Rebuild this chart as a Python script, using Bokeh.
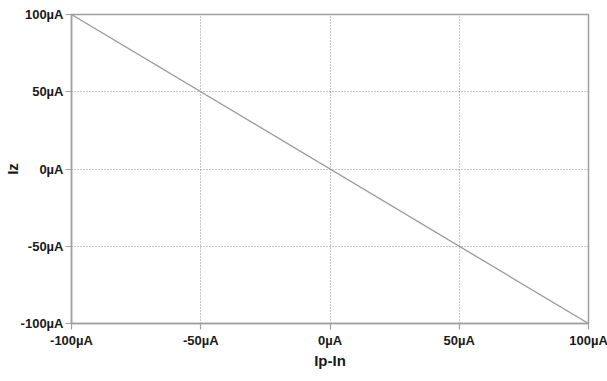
from bokeh.plotting import figure
from bokeh.models import FixedTicker, Range1d
from bokeh.embed import file_html
from bokeh.resources import INLINE

x_vals = [-100, 100]
y_vals = [100, -100]
ticks = [-100, -50, 0, 50, 100]
tick_labels = ["-100µA", "-50µA", "0µA", "50µA", "100µA"]

p = figure(width=607, height=381, output_backend="svg", toolbar_location=None,
           x_range=Range1d(-100, 100), y_range=Range1d(-100, 100),
           min_border_left=69, min_border_right=21, min_border_top=14, min_border_bottom=58,
           frame_width=517, frame_height=309)
p.background_fill_color = "white"
p.border_fill_color = "white"
p.outline_line_color = "#a0a0a0"
p.outline_line_width = 1.5

p.line(x_vals, y_vals, line_color="#9a9a9a", line_width=1.3)

FONT = "Liberation Sans"
for ax in (p.xaxis[0], p.yaxis[0]):
    ax.ticker = FixedTicker(ticks=ticks)
    ax.major_label_overrides = {t: l for t, l in zip(ticks, tick_labels)}
    ax.axis_line_color = "#a0a0a0"
    ax.axis_line_width = 1.5
    ax.major_tick_line_color = "#a0a0a0"
    ax.major_tick_line_width = 1.2
    ax.major_tick_out = 6
    ax.major_tick_in = 0
    ax.minor_tick_line_color = None
    ax.major_label_text_font = FONT
    ax.major_label_text_font_style = "bold"
    ax.major_label_text_font_size = "13px"
    ax.major_label_text_color = "#1a1a1a"
    ax.axis_label_text_font = FONT
    ax.axis_label_text_font_style = "bold"
    ax.axis_label_text_font_size = "15px"
    ax.axis_label_text_color = "#1a1a1a"

p.xaxis.axis_label = "Ip-In"
p.yaxis.axis_label = "Iz"
p.xaxis.major_label_standoff = 3
p.yaxis.major_label_standoff = 2
p.xaxis.axis_label_standoff = 1
p.yaxis.axis_label_standoff = -3

for g in (p.xgrid[0], p.ygrid[0]):
    g.ticker = FixedTicker(ticks=ticks)
    g.grid_line_color = "#8a8a8a"
    g.grid_line_dash = "1 2"
    g.grid_line_width = 1

open("out.html", "w").write(file_html(p, INLINE))
